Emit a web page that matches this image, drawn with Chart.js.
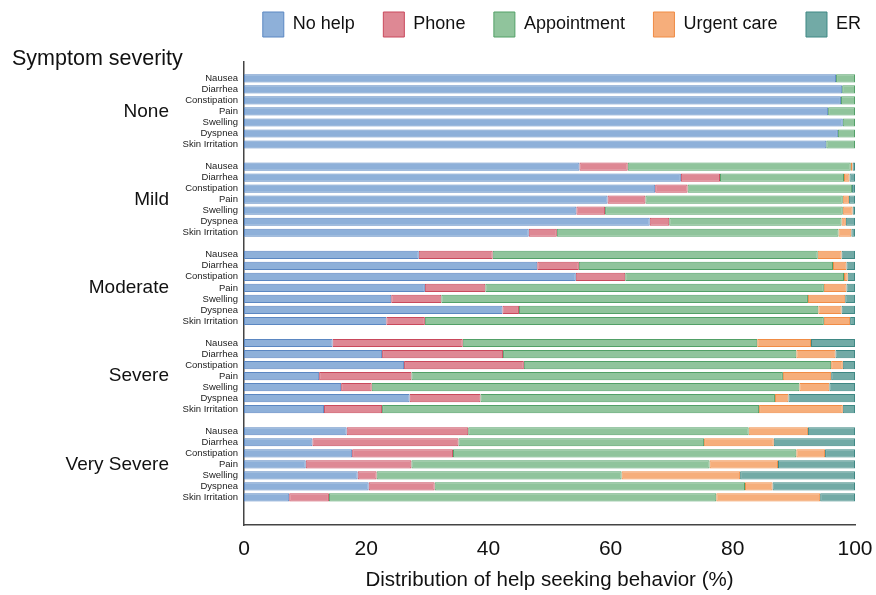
<!DOCTYPE html>
<html>
<head>
<meta charset="utf-8">
<script src="https://cdn.jsdelivr.net/npm/chart.js@4.4.1/dist/chart.umd.min.js"></script>
<style>
  html, body { margin: 0; padding: 0; background: #fff; }
  #wrap { width: 876px; height: 595px; position: relative; }
</style>
</head>
<body>
<div id="wrap"><canvas id="chart"></canvas></div>
<script>
// Help seeking behaviour by symptom and severity (stacked %)

const severities = ['None', 'Mild', 'Moderate', 'Severe', 'Very Severe'];
const symptoms = ['Nausea', 'Diarrhea', 'Constipation', 'Pain', 'Swelling', 'Dyspnea', 'Skin Irritation'];
const xTicks = [0, 20, 40, 60, 80, 100];

// one value per symptom, severities in order (None .. Very Severe)
const noHelp = [
  96.9, 97.9, 97.7, 95.6, 98.0, 97.2, 95.3,
  54.9, 71.5, 67.3, 59.5, 54.4, 66.4, 46.6,
  28.6, 48.0, 54.3, 29.6, 24.1, 42.3, 23.3,
  14.5, 22.6, 26.2, 12.3, 15.9, 27.1, 13.1,
  16.8, 11.2, 17.7, 10.1, 18.6, 20.4, 7.4,
];
const phone = [
  0, 0, 0, 0, 0, 0, 0,
  7.9, 6.4, 5.3, 6.2, 4.7, 3.2, 4.6,
  12.1, 6.8, 8.1, 9.9, 8.2, 2.7, 6.3,
  21.3, 19.8, 19.6, 15.1, 5.0, 11.6, 9.5,
  19.9, 23.9, 16.5, 17.3, 3.1, 10.8, 6.5,
];
const appointment = [
  3.1, 2.1, 2.3, 4.4, 2.0, 2.8, 4.7,
  36.5, 20.3, 26.9, 32.3, 38.9, 28.2, 46.1,
  53.2, 41.6, 35.8, 55.4, 60.0, 49.0, 65.3,
  48.2, 48.0, 50.3, 60.8, 70.0, 48.2, 61.7,
  45.9, 40.2, 56.2, 48.8, 40.1, 50.8, 63.4,
];
const urgentCare = [
  0, 0, 0, 0, 0, 0, 0,
  0.3, 0.9, 0, 1.0, 1.6, 0.7, 2.1,
  3.9, 2.2, 0.6, 3.7, 6.1, 3.8, 4.3,
  8.8, 6.4, 1.9, 7.9, 4.9, 2.2, 13.7,
  9.7, 11.4, 4.7, 11.2, 19.4, 4.5, 17.0,
];
const er = [
  0, 0, 0, 0, 0, 0, 0,
  0.4, 0.9, 0.5, 1.0, 0.4, 1.5, 0.6,
  2.2, 1.4, 1.2, 1.4, 1.6, 2.2, 0.8,
  7.2, 3.2, 2.0, 3.9, 4.2, 10.9, 2.0,
  7.7, 13.3, 4.9, 12.6, 18.8, 13.5, 5.7,
];

// build category slots: blank row on top, blank row between groups, two at the bottom
const labels = [''];
const slotOf = [];      // data index -> slot index
severities.forEach((sev, g) => {
  if (g > 0) labels.push('');
  symptoms.forEach((s, i) => {
    slotOf[g * symptoms.length + i] = labels.length;
    labels.push(s);
  });
});
labels.push('', '');

function toSlots(values) {
  const out = labels.map(() => null);
  values.forEach((v, i) => { out[slotOf[i]] = v || null; });
  return out;
}

const series = [
  { label: 'No help',      data: noHelp,      fill: '#8eb0d9', line: '#5b87c2' },
  { label: 'Phone',        data: phone,       fill: '#de8894', line: '#c9495c' },
  { label: 'Appointment',  data: appointment, fill: '#90c49c', line: '#52a067' },
  { label: 'Urgent care',  data: urgentCare,  fill: '#f6ae7b', line: '#f08c45' },
  { label: 'ER',           data: er,          fill: '#72aaa6', line: '#3f8884' },
];

Chart.defaults.font.family = "'Liberation Sans', Arial, sans-serif";
Chart.defaults.color = '#111';

// severity names to the left of the symptom labels
const groupLabels = {
  id: 'groupLabels',
  afterDraw(chart) {
    const { ctx, scales: { y } } = chart;
    ctx.save();
    ctx.font = "19px 'Liberation Sans', Arial, sans-serif";
    ctx.fillStyle = '#111';
    ctx.textAlign = 'right';
    ctx.textBaseline = 'middle';
    severities.forEach((sev, g) => {
      const mid = slotOf[g * symptoms.length + 3];
      ctx.fillText(sev, 169, y.getPixelForValue(mid));
    });
    ctx.restore();
  },
};

new Chart(document.getElementById('chart'), {
  type: 'bar',
  data: {
    labels,
    datasets: series.map(s => ({
      label: s.label,
      data: toSlots(s.data),
      backgroundColor: s.fill,
      borderColor: s.line,
      borderWidth: 1,
      borderSkipped: false,
      barPercentage: 0.74,
      categoryPercentage: 1,
    })),
  },
  options: {
    indexAxis: 'y',
    responsive: true,
    maintainAspectRatio: false,
    animation: false,
    // negative padding lets the legend sit up against the top/right edge
    layout: { padding: { left: 12, right: -13.5, top: -16.5, bottom: 0 } },
    plugins: {
      legend: {
        position: 'top',
        align: 'end',
        weight: 3000,
        labels: {
          boxWidth: 21,
          boxHeight: 25,
          padding: 28.5,
          color: '#111',
          font: { size: 18 },
        },
      },
      title: {
        display: true,
        text: 'Symptom severity',
        align: 'start',
        color: '#111',
        font: { size: 21.5, weight: 'normal', lineHeight: 1.2 },
        padding: { top: -1, bottom: -10 },
      },
      tooltip: { enabled: false },
    },
    scales: {
      x: {
        stacked: true,
        min: 0,
        max: 100,
        afterBuildTicks: axis => { axis.ticks = xTicks.map(v => ({ value: v })); },
        grid: { display: false, drawTicks: false },
        border: { display: true, color: '#444', width: 1.5 },
        ticks: { font: { size: 21 }, color: '#111', padding: 12 },
        title: {
          display: true,
          text: 'Distribution of help seeking behavior (%)',
          font: { size: 20.5 },
          color: '#111',
          padding: { top: 4, bottom: 2 },
        },
        afterFit: axis => {
          axis.height = 70;
          axis.paddingLeft = 0;
          axis.paddingRight = 21;
        },
      },
      y: {
        stacked: true,
        grid: { display: false, drawTicks: false },
        border: { display: true, color: '#444', width: 1.5 },
        ticks: { autoSkip: false, font: { size: 9.5 }, color: '#222', padding: 6 },
        afterFit: axis => { axis.width = 232; },
      },
    },
  },
  plugins: [groupLabels],
});
</script>
</body>
</html>
